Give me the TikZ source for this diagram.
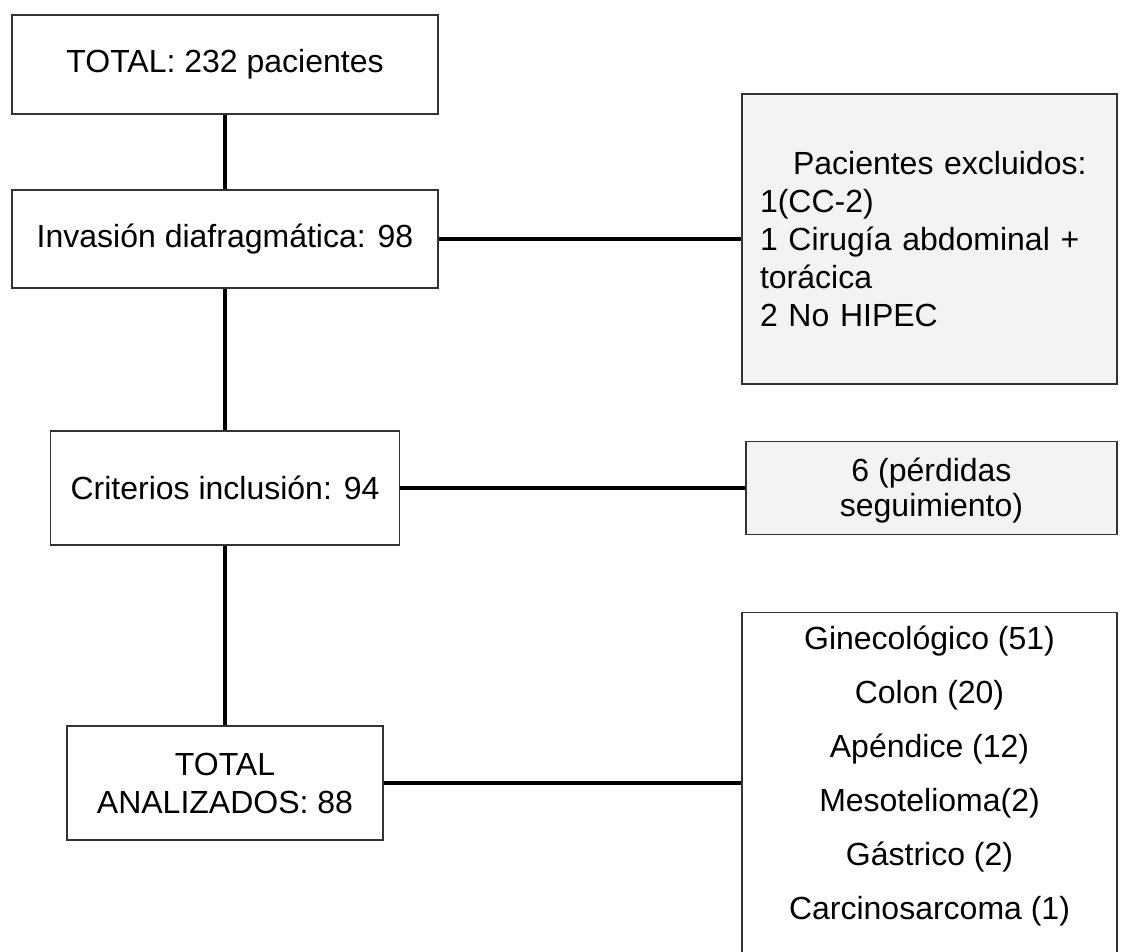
\documentclass[tikz,border=0pt]{standalone}
\usepackage{fontspec}
\setmainfont{Liberation Sans}
\definecolor{flujoGris}{HTML}{F3F3F3}
\definecolor{flujoBorde}{HTML}{333333}

\begin{document}
\begin{tikzpicture}[x=1pt, y=-1pt,
		box/.style={rectangle, draw=flujoBorde, line width=1.4pt, fill=white, align=center, inner sep=0pt, font=\fontsize{32}{38}\selectfont},
		gris/.style={box, fill=flujoGris},
		link/.style={line width=4pt, draw=black}
	]
		\clip (0,0) rectangle (1121,952);
		\node[box, minimum width=426pt, minimum height=99pt] (total) at (225,64.5) {TOTAL: 232 pacientes};
		\node[box, minimum width=426pt, minimum height=98pt] (invasion) at (225,239) {Invasión diafragmática: 98};
		\node[box, minimum width=349pt, minimum height=114pt] (criterios) at (225,488) {Criterios inclusión: 94};
		\node[box, minimum width=316pt, minimum height=114pt] (analizados) at (225,783) {TOTAL\\ANALIZADOS: 88};
		\node[gris, minimum width=375pt, minimum height=290pt, text width=339pt, align=left] (excluidos) at (929.5,239) {\hspace*{33pt}Pacientes excluidos:\\1(CC-2)\\1 Cirugía abdominal +\\torácica\\2 No HIPEC};
		\node[gris, minimum width=371pt, minimum height=93pt, text height=64pt, text depth=7pt, font=\fontsize{32}{35}\selectfont] (perdidas) at (931.5,488) {6 (pérdidas\\seguimiento)};
		\node[box, minimum width=375pt, anchor=north, inner ysep=13.5pt, text depth=70pt, font=\fontsize{32}{54}\selectfont] (tumores) at (929.5,612) {Ginecológico (51)\\Colon (20)\\Apéndice (12)\\Mesotelioma(2)\\Gástrico (2)\\Carcinosarcoma (1)};
		\draw[link] (total) -- (invasion);
		\draw[link] (invasion) -- (criterios);
		\draw[link] (criterios) -- (analizados);
		\draw[link] (invasion) -- (excluidos);
		\draw[link] (criterios) -- (perdidas);
		\draw[link] (analizados.east) -- (analizados.east -| tumores.west);
	\end{tikzpicture}
\end{document}
